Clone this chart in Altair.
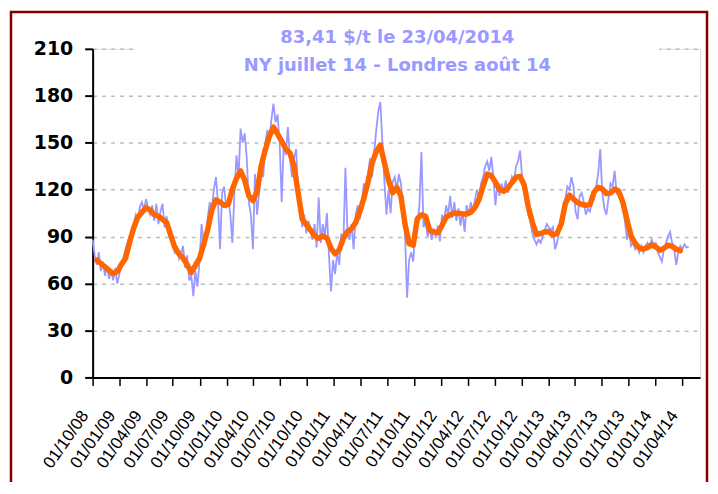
import altair as alt
import pandas as pd

# ---- text ----
TITLE_LINES = ["83,41 $/t le 23/04/2014", "NY juillet 14 - Londres août 14"]

# ---- axes ----
Y_TICKS = [0, 30, 60, 90, 120, 150, 180, 210]
X_TICK_DATES = [
    (2008, 10), (2009, 1), (2009, 4), (2009, 7), (2009, 10),
    (2010, 1), (2010, 4), (2010, 7), (2010, 10),
    (2011, 1), (2011, 4), (2011, 7), (2011, 10),
    (2012, 1), (2012, 4), (2012, 7), (2012, 10),
    (2013, 1), (2013, 4), (2013, 7), (2013, 10),
    (2014, 1), (2014, 4),
]

# ---- series: weekly price ($/t), from 2008-10-01 to 2014-04-23 ----
BLUE_START = "2008-10-01"
BLUE = [
    88, 78, 72, 80, 68, 74, 65, 71, 63, 68,
    62, 70, 60, 66, 72, 77, 82, 86, 90, 94,
    97, 104, 101, 109, 112, 107, 114, 108, 104, 110,
    100, 111, 98, 106, 111, 96, 103, 93, 90, 85,
    80, 84, 76, 79, 84, 70, 78, 62, 65, 52,
    68, 58, 74, 98, 87, 84, 102, 112, 108, 120,
    128, 112, 82, 118, 122, 108, 115, 104, 86, 118,
    142, 128, 159, 150, 156, 140, 112, 104, 82, 130,
    104, 118, 133, 128, 150, 158, 152, 165, 175, 163,
    168, 150, 112, 150, 142, 160, 140, 128, 140, 146,
    118, 110, 96, 104, 92, 100, 95, 88, 98, 83,
    115, 86, 98, 90, 105, 78, 55, 75, 66, 80,
    72, 92, 85, 134, 94, 88, 98, 82, 104, 110,
    101, 112, 124, 118, 130, 140, 128, 144, 158, 170,
    176, 150, 125, 104, 120, 105, 125, 128, 120, 130,
    124, 110, 92, 51, 75, 80, 74, 94, 98, 110,
    144, 96, 100, 90, 96, 88, 95, 90, 97, 87,
    104, 100, 110, 104, 116, 102, 112, 100, 108, 97,
    106, 93, 110, 104, 112, 106, 113, 120, 115, 124,
    128, 135, 138, 132, 141, 128, 110, 124, 116, 124,
    118, 126, 118, 122, 128, 124, 135, 138, 145, 128,
    120, 112, 104, 100, 92, 88, 85, 88, 86, 90,
    94, 98, 96, 94, 96, 82, 86, 94, 100, 110,
    114, 122, 120, 128, 122, 106, 101, 116, 118, 112,
    104, 108, 106, 112, 114, 122, 130, 146, 118, 108,
    104, 114, 124, 122, 132, 118, 120, 114, 108, 100,
    88, 94, 84, 86, 82, 84, 80, 84, 80, 84,
    86, 83, 88, 85, 86, 80, 77, 74, 82, 86,
    90, 93, 86, 82, 72, 80, 84, 82, 85, 83,
    83.41,
]

# ---- series: moving average, every 14 days from 2008-10-15 ----
ORANGE_START = "2008-10-15"
ORANGE = [
    75, 72.8, 70.6, 68.4, 66.4, 67.5, 72.3, 76, 86.5, 95.6,
    102.5, 105.5, 108.5, 107, 104, 103, 101, 99, 91, 83,
    79, 76.3, 72, 67, 71.6, 76, 85, 94.6, 107, 113.5,
    112, 110, 110.6, 120.3, 127.2, 132, 126, 116, 113, 118.7,
    135, 145.5, 154, 160, 155.5, 151, 146, 143.5, 135, 118,
    101, 97.7, 94.2, 90.5, 88.9, 90.4, 89, 82.5, 79, 81.5,
    89, 93.3, 95, 99, 106, 114.6, 125, 137, 144.4, 148.5,
    137, 126, 118, 121.5, 116, 98, 85.5, 84.5, 101.5, 104,
    103, 94, 93, 92.5, 97, 102.5, 104, 105, 105, 104.5,
    104.5, 105.5, 108.5, 113.7, 122, 130, 129, 124.8, 120, 119,
    121, 124.5, 128, 128.5, 123, 109, 99, 91.4, 92, 93,
    93.2, 91, 92, 98, 111, 116.5, 114, 111.8, 110.5, 110,
    110.5, 118.5, 121.5, 120.5, 117.5, 117.8, 120.4, 119, 112, 101,
    90.3, 85.8, 82.7, 82, 83.1, 84.7, 83.5, 81.3, 82.5, 84.5,
    83.8, 81.9, 81,
]

blue_df = pd.DataFrame({
    "date": pd.date_range(BLUE_START, periods=len(BLUE), freq="7D").strftime("%Y-%m-%d"),
    "value": BLUE,
})
orange_df = pd.DataFrame({
    "date": pd.date_range(ORANGE_START, periods=len(ORANGE), freq="14D").strftime("%Y-%m-%d"),
    "value": ORANGE,
})

x_values = [alt.DateTime(year=y, month=m, date=1, utc=True) for (y, m) in X_TICK_DATES]
x_domain = [alt.DateTime(year=2008, month=10, date=1, utc=True),
            alt.DateTime(year=2014, month=6, date=1, utc=True)]

x_enc = alt.X(
    "date:T",
    scale=alt.Scale(type="utc", domain=x_domain),
    axis=alt.Axis(
        values=x_values, labelExpr="utcFormat(datum.value, '%d/%m/%y')",
        title=None, grid=False, labelAngle=-55, labelAlign="right",
        labelBaseline="middle", labelPadding=27, labelOffset=-8,
        labelFont="Liberation Sans", labelFontSize=17, labelColor="black",
        labelOverlap=False, labelFlush=False,
        tickSize=8, tickColor="black", tickWidth=1.5,
        domainColor="black", domainWidth=2,
    ),
)
y_enc = alt.Y(
    "value:Q",
    scale=alt.Scale(domain=[0, 210], nice=False),
    axis=alt.Axis(
        values=Y_TICKS, title=None, grid=True, gridDash=[4, 5],
        gridColor="#BDBDBD", gridWidth=1.5,
        labelFont="DejaVu Sans", labelFontWeight="bold", labelFontSize=19,
        labelColor="black", labelPadding=12,
        tickSize=8, tickColor="black", tickWidth=2,
        domainColor="black", domainWidth=2,
    ),
)

title_bg = alt.Chart(alt.Data(values=[{}])).mark_rect(color="white").encode(
    x=alt.value(42), x2=alt.value(569), y=alt.value(-4), y2=alt.value(4)
)

blue = alt.Chart(blue_df).mark_line(color="#9999FF", strokeWidth=1.8).encode(x=x_enc, y=y_enc)
orange = alt.Chart(orange_df).mark_line(
    color="#FF6600", strokeWidth=5.5, strokeCap="round", strokeJoin="round"
).encode(x=x_enc, y=y_enc)

title1 = alt.Chart(alt.Data(values=[{"t": TITLE_LINES[0]}])).mark_text(
    font="DejaVu Sans", fontWeight="bold", fontSize=18, color="#9999FF",
    align="center", baseline="alphabetic"
).encode(x=alt.value(306), y=alt.value(-6), text="t:N")
title2 = alt.Chart(alt.Data(values=[{"t": TITLE_LINES[1]}])).mark_text(
    font="DejaVu Sans", fontWeight="bold", fontSize=18, color="#9999FF",
    align="center", baseline="alphabetic"
).encode(x=alt.value(306), y=alt.value(22), text="t:N")

border = alt.Chart(alt.Data(values=[{}])).mark_rect(
    fillOpacity=0, stroke="#800000", strokeWidth=2.5
).encode(x=alt.value(-82), x2=alt.value(617), y=alt.value(-37), y2=alt.value(480))

chart = alt.layer(title_bg, blue, orange, title1, title2, border).properties(
    width=610, height=330,
    padding={"left": 85, "top": 40, "right": 10, "bottom": 104},
    autosize=alt.AutoSizeParams(type="none"),
).configure_view(strokeWidth=0).configure(background="white")

chart.save("out.html", embed_options={"renderer": "svg", "actions": False})
